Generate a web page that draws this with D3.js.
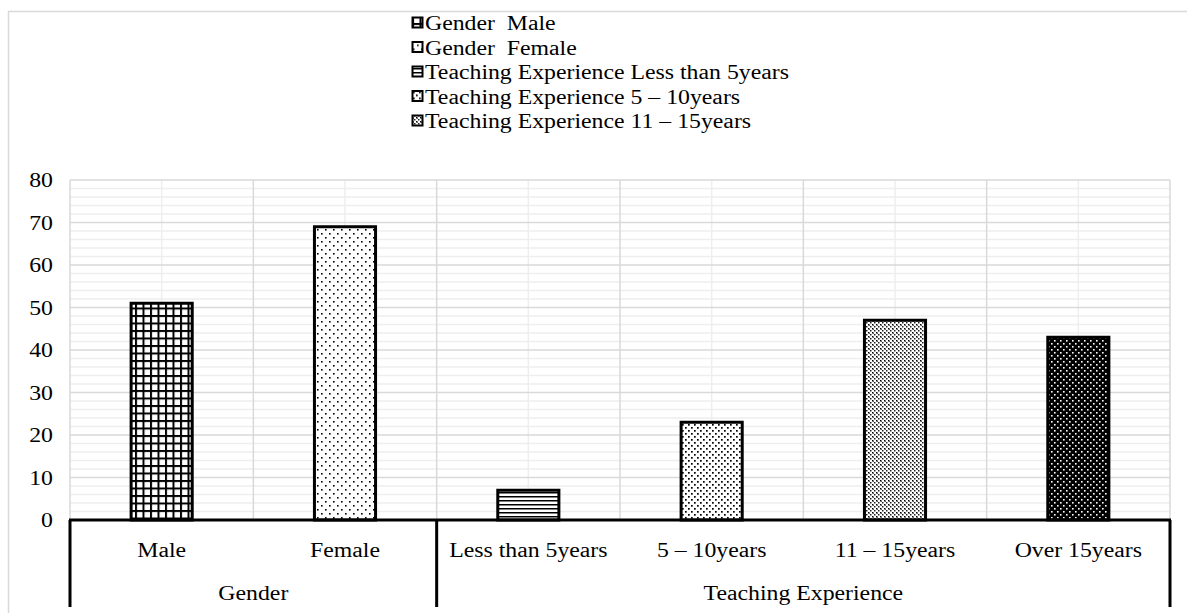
<!DOCTYPE html>
<html>
<head>
<meta charset="utf-8">
<script src="https://cdn.jsdelivr.net/npm/d3@7"></script>
<style>
  body { margin: 0; background: #fff; }
</style>
</head>
<body>
<svg id="chart" width="1187" height="613"></svg>
<script>
// data
const groups = ["Gender", "Teaching Experience"];
const categories = ["Male", "Female", "Less than 5years", "5 \u2013 10years", "11 \u2013 15years", "Over 15years"];
const categoryGroup = ["Gender", "Gender", "Teaching Experience", "Teaching Experience", "Teaching Experience", "Teaching Experience"];
const values = [51, 69, 7, 23, 47, 43];
const legendLabels = ["Gender \u00a0Male", "Gender \u00a0Female", "Teaching Experience Less than 5years",
                      "Teaching Experience 5 \u2013 10years", "Teaching Experience 11 \u2013 15years"];
const yTicks = [0, 10, 20, 30, 40, 50, 60, 70, 80];

// the picture's text is a bit wider than plain Times, stretch it sideways
const stretch = 1.16;

const svg = d3.select("#chart")
    .attr("font-family", "'Liberation Serif', 'Times New Roman', 'DejaVu Serif', serif")
    .attr("font-size", 20.5);
const plotLeft = 70, plotRight = 1170, plotTop = 180, plotBottom = 520, axisBottom = 607;

// outer chart border
svg.append("rect")
    .attr("x", 8.5).attr("y", 11.5)
    .attr("width", 1200).attr("height", 700)
    .attr("fill", "none").attr("stroke", "#d9d9d9").attr("stroke-width", 1.5);

// patterns, one per bar
const defs = svg.append("defs");
const patIds = ["p-male", "p-female", "p-less", "p-5to10", "p-11to15", "p-over15"];

// grid for Male
let p = defs.append("pattern").attr("id", "p-male").attr("patternUnits", "userSpaceOnUse")
    .attr("width", 7.5).attr("height", 7.5);
p.append("rect").attr("width", 7.5).attr("height", 7.5).attr("fill", "#fff");
p.append("rect").attr("x", 0).attr("y", 0).attr("width", 2).attr("height", 7.5).attr("fill", "#000");
p.append("rect").attr("x", 0).attr("y", 0).attr("width", 7.5).attr("height", 2).attr("fill", "#000");

// sparse dots for Female
p = defs.append("pattern").attr("id", "p-female").attr("patternUnits", "userSpaceOnUse")
    .attr("width", 8).attr("height", 8);
p.append("rect").attr("width", 8).attr("height", 8).attr("fill", "#fff");
p.append("rect").attr("x", 1).attr("y", 1).attr("width", 1.6).attr("height", 1.6).attr("fill", "#000");
p.append("rect").attr("x", 5).attr("y", 5).attr("width", 1.6).attr("height", 1.6).attr("fill", "#000");

// horizontal lines
p = defs.append("pattern").attr("id", "p-less").attr("patternUnits", "userSpaceOnUse")
    .attr("width", 8).attr("height", 4);
p.append("rect").attr("width", 8).attr("height", 4).attr("fill", "#fff");
p.append("rect").attr("x", 0).attr("y", 0).attr("width", 8).attr("height", 1.5).attr("fill", "#000");

// denser dots
p = defs.append("pattern").attr("id", "p-5to10").attr("patternUnits", "userSpaceOnUse")
    .attr("width", 6).attr("height", 6);
p.append("rect").attr("width", 6).attr("height", 6).attr("fill", "#fff");
p.append("rect").attr("x", 1).attr("y", 1).attr("width", 1.7).attr("height", 1.7).attr("fill", "#000");
p.append("rect").attr("x", 4).attr("y", 4).attr("width", 1.7).attr("height", 1.7).attr("fill", "#000");

// checker / diamond
p = defs.append("pattern").attr("id", "p-11to15").attr("patternUnits", "userSpaceOnUse")
    .attr("width", 4).attr("height", 4);
p.append("rect").attr("width", 4).attr("height", 4).attr("fill", "#fff");
p.append("rect").attr("x", 0).attr("y", 0).attr("width", 1.5).attr("height", 1.5).attr("fill", "#000");
p.append("rect").attr("x", 2).attr("y", 2).attr("width", 1.5).attr("height", 1.5).attr("fill", "#222");
p.append("rect").attr("x", 1).attr("y", 1).attr("width", 1).attr("height", 1).attr("fill", "#666");

// black with white dots
p = defs.append("pattern").attr("id", "p-over15").attr("patternUnits", "userSpaceOnUse")
    .attr("width", 6).attr("height", 6);
p.append("rect").attr("width", 6).attr("height", 6).attr("fill", "#000");
p.append("rect").attr("x", 1).attr("y", 1).attr("width", 1.6).attr("height", 1.6).attr("fill", "#fff");
p.append("rect").attr("x", 4).attr("y", 4).attr("width", 1.6).attr("height", 1.6).attr("fill", "#fff");

// scales
const x = d3.scaleBand().domain(categories).range([plotLeft, plotRight]).paddingInner(0).paddingOuter(0);
const y = d3.scaleLinear().domain([0, 80]).range([plotBottom, plotTop]);

// minor gridlines
svg.append("g").selectAll("line")
    .data(d3.range(0, 81, 2).filter(v => v % 10 !== 0))
    .join("line")
    .attr("x1", plotLeft).attr("x2", plotRight)
    .attr("y1", d => y(d)).attr("y2", d => y(d))
    .attr("stroke", "#eeeeee").attr("stroke-width", 1.5);

svg.append("g").selectAll("line")
    .data(categories)
    .join("line")
    .attr("x1", d => x(d) + x.bandwidth() / 2).attr("x2", d => x(d) + x.bandwidth() / 2)
    .attr("y1", plotTop).attr("y2", plotBottom)
    .attr("stroke", "#eeeeee").attr("stroke-width", 1.5);

// major gridlines
svg.append("g").selectAll("line")
    .data(yTicks.filter(v => v > 0))
    .join("line")
    .attr("x1", plotLeft).attr("x2", plotRight)
    .attr("y1", d => y(d)).attr("y2", d => y(d))
    .attr("stroke", "#d9d9d9").attr("stroke-width", 1.5);

svg.append("g").selectAll("line")
    .data(categories.slice(1).concat(["end"]))
    .join("line")
    .attr("x1", d => d === "end" ? plotRight : x(d)).attr("x2", d => d === "end" ? plotRight : x(d))
    .attr("y1", plotTop).attr("y2", plotBottom)
    .attr("stroke", "#d9d9d9").attr("stroke-width", 1.5);

svg.append("line")
    .attr("x1", plotLeft).attr("x2", plotLeft).attr("y1", plotTop).attr("y2", plotBottom)
    .attr("stroke", "#d9d9d9").attr("stroke-width", 1.5);

// bars
const barW = x.bandwidth() / 3;
svg.append("g").selectAll("rect")
    .data(values)
    .join("rect")
    .attr("x", (d, i) => x(categories[i]) + (x.bandwidth() - barW) / 2)
    .attr("y", d => y(d))
    .attr("width", barW)
    .attr("height", d => y(0) - y(d))
    .attr("fill", (d, i) => `url(#${patIds[i]})`)
    .attr("stroke", "#000").attr("stroke-width", 3);

// y axis labels
svg.append("g").selectAll("text")
    .data(yTicks)
    .join("text")
    .attr("transform", d => `translate(53,${y(d)}) scale(${stretch},1)`)
    .attr("dy", "0.35em")
    .attr("text-anchor", "end")
    .text(d => d);

// category axis
const axis = svg.append("g");
axis.append("line").attr("x1", plotLeft - 1).attr("x2", plotRight + 1)
    .attr("y1", plotBottom).attr("y2", plotBottom).attr("stroke", "#000").attr("stroke-width", 3);

const groupStart = groups.map(g => x(categories[categoryGroup.indexOf(g)]));
const groupEnd = groups.map(g => x(categories[categoryGroup.lastIndexOf(g)]) + x.bandwidth());

axis.selectAll(".sep")
    .data(groupStart.concat([plotRight]))
    .join("line")
    .attr("class", "sep")
    .attr("x1", d => d).attr("x2", d => d)
    .attr("y1", plotBottom).attr("y2", axisBottom)
    .attr("stroke", "#000").attr("stroke-width", 3);

axis.selectAll(".cat")
    .data(categories)
    .join("text")
    .attr("class", "cat")
    .attr("transform", d => `translate(${x(d) + x.bandwidth() / 2},557) scale(${stretch},1)`)
    .attr("text-anchor", "middle")
    .text(d => d);

axis.selectAll(".grp")
    .data(groups)
    .join("text")
    .attr("class", "grp")
    .attr("transform", (d, i) => `translate(${(groupStart[i] + groupEnd[i]) / 2},600) scale(${stretch},1)`)
    .attr("text-anchor", "middle")
    .text(d => d);

// legend
const legend = svg.append("g");
const legItems = legend.selectAll("g")
    .data(legendLabels)
    .join("g")
    .attr("transform", (d, i) => `translate(412, ${23 + i * 24.5})`);
legItems.append("rect")
    .attr("x", 0.5).attr("y", -5.5)
    .attr("width", 10).attr("height", 10)
    .attr("fill", (d, i) => `url(#${patIds[i]})`)
    .attr("stroke", "#000").attr("stroke-width", 2);
legItems.append("text")
    .attr("transform", `translate(13,0) scale(${stretch},1)`)
    .attr("dy", "0.35em")
    .text(d => d);
</script>
</body>
</html>
